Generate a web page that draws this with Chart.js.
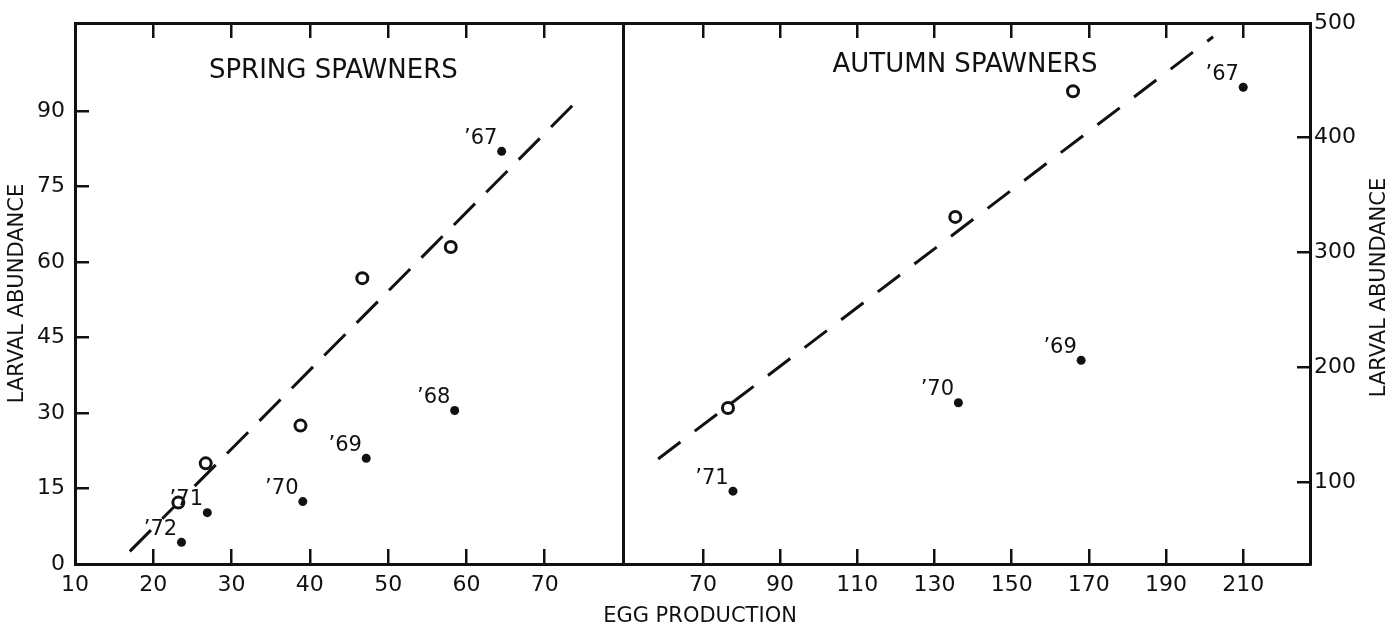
<!DOCTYPE html>
<html>
<head>
<meta charset="utf-8">
<script src="https://cdn.jsdelivr.net/npm/chart.js@4.4.1/dist/chart.umd.min.js"></script>
<style>
  html, body { margin: 0; padding: 0; background: #fff; }
  #wrap { position: relative; width: 1393px; height: 631px; }
  .layer { position: absolute; left: 0; top: 0; width: 1393px; height: 631px; }
</style>
</head>
<body>
<div id="wrap">
  <div class="layer"><canvas id="springChart"></canvas></div>
  <div class="layer"><canvas id="autumnChart"></canvas></div>
</div>
<script>
// Spring spawners (left panel)
const springYears = ["’72", "’71", "’70", "’69", "’68", "’67"];
const springEggs = [23.6, 26.9, 39.1, 47.2, 58.5, 64.5];
const springLarvae = [4.3, 10.2, 12.4, 21, 30.5, 82];
const springOpenEggs = [23.2, 26.7, 38.8, 46.7, 58];
const springOpenLarvae = [12.2, 20, 27.5, 56.8, 63];
const springFitEggs = [17, 73.6];
const springFitLarvae = [2.5, 91.2];

// Autumn spawners (right panel)
const autumnYears = ["’71", "’70", "’69", "’67"];
const autumnEggs = [77.8, 136.2, 168, 210];
const autumnLarvae = [92, 169, 206, 444];
const autumnOpenEggs = [76.5, 135.4, 165.9];
const autumnOpenLarvae = [164.5, 331, 440.5];
const autumnFitEggs = [58.4, 202.2];
const autumnFitLarvae = [120, 488];

// Tick labels
const springXTicks = [10, 20, 30, 40, 50, 60, 70];
const springXTopTicks = [20, 30, 40, 50, 60, 70];
const springYTicks = [0, 15, 30, 45, 60, 75, 90];
const autumnXTicks = [70, 90, 110, 130, 150, 170, 190, 210];
const autumnYTicks = [100, 200, 300, 400, 500];

const INK = "#111";
const FONT = "'DejaVu Sans', sans-serif";
Chart.defaults.font.family = FONT;
Chart.defaults.color = INK;

const pts = (xs, ys) => xs.map((x, i) => ({ x: x, y: ys[i] }));
const fixedTicks = (values) => (axis) => { axis.ticks = values.map((v) => ({ value: v })); };

// fixed box size, and no extra label overhang padding
function fitTo(w, h) {
  return (s) => {
    if (w !== null) s.width = w;
    if (h !== null) s.height = h;
    s.paddingTop = 0; s.paddingBottom = 0; s.paddingLeft = 0; s.paddingRight = 0;
  };
}

function axisStyle(tickLen) {
  return {
    grid: { drawOnChartArea: false, drawTicks: true, tickLength: tickLen, color: INK, lineWidth: 2.5 },
    border: { display: true, color: INK, width: 3 },
  };
}

function datasets(eggs, larvae, openEggs, openLarvae, fitEggs, fitLarvae, dash) {
  return [
    { data: pts(eggs, larvae), pointRadius: 4.5, backgroundColor: INK, borderColor: INK, borderWidth: 0 },
    { data: pts(openEggs, openLarvae), pointRadius: 5.5, backgroundColor: "#fff", borderColor: INK, borderWidth: 3 },
    { data: pts(fitEggs, fitLarvae), showLine: true, pointRadius: 0, borderColor: INK, borderWidth: 3, borderDash: dash, fill: false },
  ];
}

// year labels next to the filled points, plus the panel heading
const panelText = {
  id: "panelText",
  afterDatasetsDraw(chart, args, opts) {
    const ctx = chart.ctx;
    const meta = chart.getDatasetMeta(0);
    ctx.save();
    ctx.fillStyle = INK;
    ctx.textAlign = "center";
    ctx.textBaseline = "middle";
    ctx.font = "21px " + FONT;
    meta.data.forEach((pt, i) => ctx.fillText(opts.labels[i], pt.x - 21, pt.y - 13));
    ctx.font = "26px " + FONT;
    ctx.fillText(opts.title, chart.scales.x.getPixelForValue(opts.titleAt[0]), chart.scales.y.getPixelForValue(opts.titleAt[1]));
    (opts.extra || []).forEach((t) => {
      ctx.save();
      ctx.font = "21px " + FONT;
      ctx.translate(t.x(chart.chartArea), t.y(chart.chartArea));
      ctx.rotate(t.rot || 0);
      ctx.fillText(t.text, 0, 0);
      ctx.restore();
    });
    ctx.restore();
  },
};

const baseOptions = {
  responsive: true,
  maintainAspectRatio: false,
  animation: false,
  events: [],
};

// Left panel
new Chart(document.getElementById("springChart"), {
  type: "scatter",
  data: { datasets: datasets(springEggs, springLarvae, springOpenEggs, springOpenLarvae, springFitEggs, springFitLarvae, [30, 16]) },
  plugins: [panelText],
  options: {
    ...baseOptions,
    layout: { padding: { left: 0, right: 770, top: 0, bottom: 0 } },
    plugins: {
      legend: { display: false },
      tooltip: { enabled: false },
      panelText: { labels: springYears, title: "SPRING SPAWNERS", titleAt: [43, 98] },
    },
    scales: {
      x: {
        type: "linear", position: "bottom", min: 10, max: 80,
        afterBuildTicks: fixedTicks(springXTicks),
        afterFit: fitTo(null, 67),
        ticks: { autoSkip: false, maxRotation: 0, padding: 23, font: { size: 22 } },
        ...axisStyle(-15),
      },
      xTop: {
        type: "linear", position: "top", min: 10, max: 80,
        afterBuildTicks: fixedTicks(springXTopTicks),
        afterFit: fitTo(null, 23),
        ticks: { display: false },
        ...axisStyle(-15),
      },
      y: {
        type: "linear", position: "left", min: 0, max: 107.5,
        afterBuildTicks: fixedTicks(springYTicks),
        afterFit: fitTo(75, null),
        ticks: { autoSkip: false, padding: 24, font: { size: 22 } },
        title: { display: true, text: "LARVAL ABUNDANCE", font: { size: 21 }, padding: { top: 5, bottom: 0 } },
        ...axisStyle(-14),
      },
    },
  },
});

// Right panel
new Chart(document.getElementById("autumnChart"), {
  type: "scatter",
  data: { datasets: datasets(autumnEggs, autumnLarvae, autumnOpenEggs, autumnOpenLarvae, autumnFitEggs, autumnFitLarvae, [28, 18]) },
  plugins: [panelText],
  options: {
    ...baseOptions,
    layout: { padding: { left: 623, right: 0, top: 0, bottom: 0 } },
    plugins: {
      legend: { display: false },
      tooltip: { enabled: false },
      panelText: {
        labels: autumnYears, title: "AUTUMN SPAWNERS", titleAt: [137.9, 463],
        extra: [
          { text: "EGG PRODUCTION", x: (a) => a.left + 77, y: (a) => a.bottom + 53 },
          { text: "LARVAL ABUNDANCE", x: (a) => a.right + 70, y: (a) => (a.top + a.bottom) / 2 - 6, rot: -Math.PI / 2 },
        ],
      },
    },
    scales: {
      x: {
        type: "linear", position: "bottom", min: 49.3, max: 227.3,
        afterBuildTicks: fixedTicks(autumnXTicks),
        afterFit: fitTo(null, 67),
        ticks: { autoSkip: false, maxRotation: 0, padding: 23, font: { size: 22 } },
        ...axisStyle(-15),
      },
      xTop: {
        type: "linear", position: "top", min: 49.3, max: 227.3,
        afterBuildTicks: fixedTicks(autumnXTicks),
        afterFit: fitTo(null, 23),
        ticks: { display: false },
        ...axisStyle(-15),
      },
      y: {
        type: "linear", position: "right", min: 28.5, max: 500,
        afterBuildTicks: fixedTicks(autumnYTicks),
        afterFit: fitTo(83, null),
        ticks: { autoSkip: false, padding: 17, font: { size: 22 } },
        ...axisStyle(-13),
      },
      yDiv: {
        type: "linear", position: "left", min: 0, max: 1,
        afterFit: fitTo(0, null),
        ticks: { display: false },
        grid: { drawOnChartArea: false, drawTicks: false },
        border: { display: true, color: INK, width: 3 },
      },
    },
  },
});
</script>
</body>
</html>
